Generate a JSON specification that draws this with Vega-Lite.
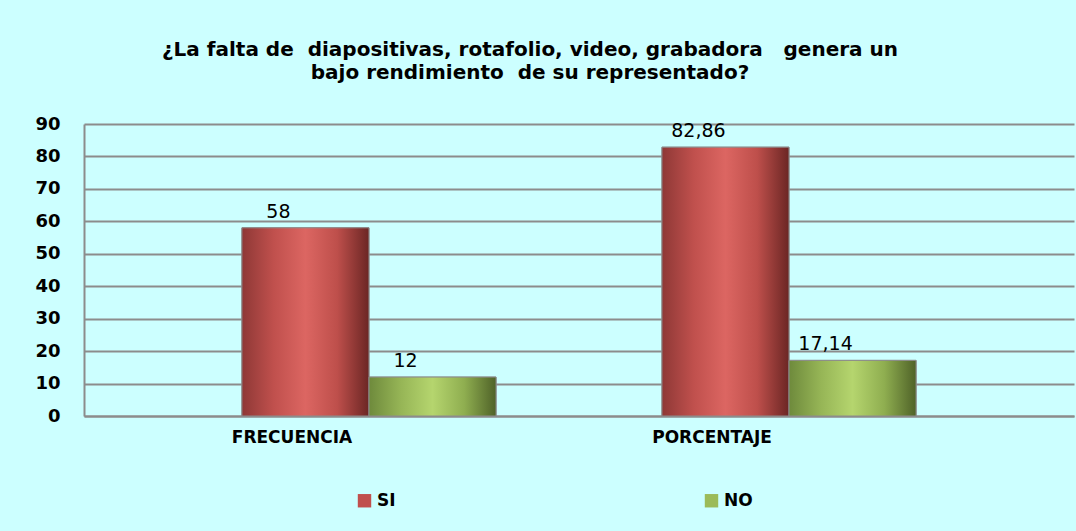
{
  "$schema": "https://vega.github.io/schema/vega-lite/v6.json",
  "autosize": "none",
  "width": 990,
  "height": 292,
  "padding": {"left": 84, "top": 124, "right": 2, "bottom": 115},
  "background": "#CCFFFF",
  "title": {
    "text": ["¿La falta de\u00a0 diapositivas, rotafolio, video, grabadora\u00a0\u00a0 genera un", "bajo rendimiento\u00a0 de su representado?"],
    "font": "DejaVu Sans",
    "fontSize": 20,
    "fontWeight": "bold",
    "color": "#000000",
    "anchor": "middle",
    "dx": -49,
    "offset": 32,
    "lineHeight": 23
  },
  "data": {
    "values": [
      {"categoria": "FRECUENCIA", "serie": "SI", "valor": 58, "etiqueta": "58"},
      {"categoria": "FRECUENCIA", "serie": "NO", "valor": 12, "etiqueta": "12"},
      {"categoria": "PORCENTAJE", "serie": "SI", "valor": 82.86, "etiqueta": "82,86"},
      {"categoria": "PORCENTAJE", "serie": "NO", "valor": 17.14, "etiqueta": "17,14"}
    ]
  },
  "encoding": {
    "x": {
      "field": "categoria",
      "type": "nominal",
      "sort": ["FRECUENCIA", "PORCENTAJE"],
      "scale": {"paddingInner": 0.395, "paddingOuter": 0.376},
      "axis": {
        "title": null,
        "labelAngle": 0,
        "labelFont": "DejaVu Sans",
        "labelFontWeight": "bold",
        "labelFontSize": 17,
        "labelColor": "#000000",
        "labelOffset": -77,
        "labelPadding": 13,
        "ticks": false,
        "domainColor": "#8C8C8C",
        "domainWidth": 2
      }
    },
    "xOffset": {
      "field": "serie",
      "type": "nominal",
      "sort": ["SI", "NO"],
      "scale": {"paddingInner": 0, "paddingOuter": 0}
    },
    "y": {
      "field": "valor",
      "type": "quantitative",
      "scale": {"domain": [0, 90]},
      "axis": {
        "title": null,
        "values": [0, 10, 20, 30, 40, 50, 60, 70, 80, 90],
        "labelFont": "DejaVu Sans",
        "labelFontWeight": "bold",
        "labelFontSize": 18,
        "labelColor": "#000000",
        "labelPadding": 24,
        "ticks": false,
        "domainColor": "#8C8C8C",
        "domainWidth": 2,
        "grid": true,
        "gridColor": "#8C8C8C",
        "gridWidth": 2
      }
    }
  },
  "layer": [
    {
      "mark": {"type": "bar", "stroke": "#8C8C8C", "strokeWidth": 1},
      "encoding": {
        "color": {
          "field": "serie",
          "type": "nominal",
          "sort": ["SI", "NO"],
          "scale": {"domain": ["SI", "NO"], "range": ["#C0504D", "#9BBB59"]},
          "legend": {
            "title": null,
            "orient": "none",
            "direction": "horizontal",
            "legendX": 272,
            "legendY": 368,
            "symbolType": "square",
            "symbolSize": 180,
            "symbolStrokeWidth": 0,
            "labelFont": "DejaVu Sans",
            "labelFontWeight": "bold",
            "labelFontSize": 17,
            "labelColor": "#000000",
            "columnPadding": 307
          }
        }
      }
    },
    {
      "mark": {"type": "bar", "stroke": "#8C8C8C", "strokeWidth": 1},
      "encoding": {
        "color": {
          "condition": {
            "test": "datum.serie === 'SI'",
            "value": {
              "gradient": "linear", "x1": 0, "x2": 1, "y1": 0, "y2": 0,
              "stops": [
                {"offset": 0, "color": "#8E3836"},
                {"offset": 0.25, "color": "#C0504D"},
                {"offset": 0.5, "color": "#DC6662"},
                {"offset": 0.75, "color": "#BE4F4B"},
                {"offset": 1, "color": "#6B2624"}
              ]
            }
          },
          "value": {
            "gradient": "linear", "x1": 0, "x2": 1, "y1": 0, "y2": 0,
            "stops": [
              {"offset": 0, "color": "#6E8A3C"},
              {"offset": 0.25, "color": "#96B556"},
              {"offset": 0.5, "color": "#B5D56E"},
              {"offset": 0.75, "color": "#8FAE50"},
              {"offset": 1, "color": "#4F6228"}
            ]
          }
        }
      }
    },
    {
      "mark": {"type": "text", "baseline": "bottom", "dy": -6, "dx": -27, "font": "DejaVu Sans", "fontSize": 19, "color": "#000000"},
      "encoding": {
        "text": {"field": "etiqueta", "type": "nominal"}
      }
    }
  ],
  "config": {
    "view": {"stroke": null}
  }
}
